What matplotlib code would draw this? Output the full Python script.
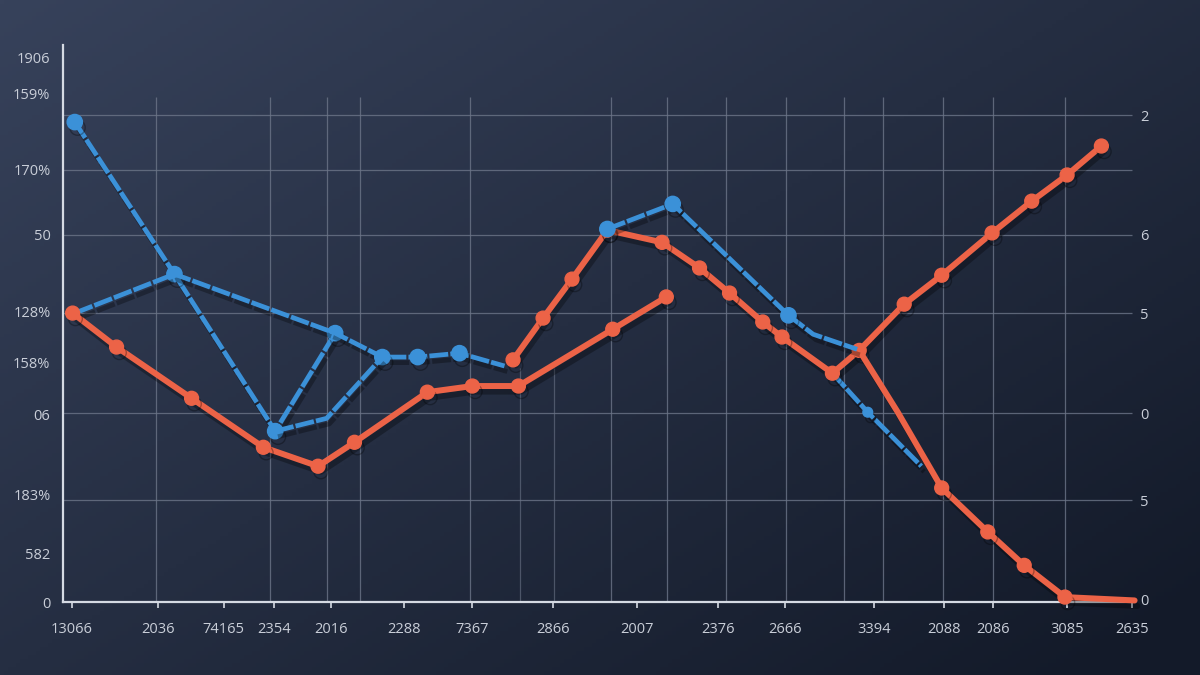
import numpy as np
import matplotlib.pyplot as plt
import matplotlib.patheffects as pe

plt.rcParams['font.family'] = ['Open Sans', 'DejaVu Sans']

# --- data ---
red1_x = [0.9, 5.0, 12.0, 18.7, 23.8, 27.2, 34.0, 38.2, 42.5, 51.3, 56.3]
red1_y = [51.9, 45.8, 36.6, 27.8, 24.4, 28.7, 37.7, 38.8, 38.8, 49.0, 54.8]

red2_x = [42.0, 44.8, 47.5, 50.8, 55.9, 59.4, 62.2, 65.3, 67.1, 71.8, 74.3,
          78.5, 82.0, 86.7, 90.4, 93.7, 96.9]
red2_y = [43.5, 51.0, 58.0, 66.8, 64.6, 60.0, 55.5, 50.3, 47.6, 41.1, 45.2,
          53.5, 58.7, 66.3, 72.0, 76.7, 81.9]

red3_x = [74.3, 77.9, 82.0, 86.3, 89.7, 93.5, 100.0]
red3_y = [45.2, 34.1, 20.5, 12.6, 6.6, 0.9, 0.3]

blue_a_x = [1.1, 10.4, 19.8, 25.4]
blue_a_y = [86.2, 58.9, 30.7, 48.3]
blue_b_x = [1.1, 10.4, 25.4, 29.8, 33.1, 37.0, 41.2]
blue_b_y = [51.9, 58.9, 48.3, 44.0, 44.0, 44.7, 42.4]
blue_c_x = [19.8, 24.6, 29.8]
blue_c_y = [30.7, 33.0, 44.0]
blue_d_x = [50.8, 56.9, 67.7, 70.0, 74.1]
blue_d_y = [67.0, 71.5, 51.5, 48.1, 45.4]
blue_e_x = [71.8, 75.1, 80.1]
blue_e_y = [41.1, 34.1, 24.4]

x_ticks = [0.84, 8.86, 15.0, 19.7, 25.0, 31.8, 38.2, 45.7, 53.6, 61.1, 67.4,
           75.7, 82.2, 86.8, 93.7, 99.8]
x_labels = ['13066', '2036', '74165', '2354', '2016', '2288', '7367', '2866',
            '2007', '2376', '2666', '3394', '2088', '2086', '3085', '2635']
left_ticks = [97.8, 91.4, 77.6, 66.1, 52.1, 43.1, 33.6, 19.4, 8.8, 0.0]
left_labels = ['1906', '159%', '170%', '50', '128%', '158%', '06', '183%', '582', '0']
right_ticks = [87.4, 66.1, 51.9, 33.9, 18.3, 0.4]
right_labels = ['2', '6', '5', '0', '5', '0']

# grid layout
hgrid = [87.4, 77.6, 65.9, 51.9, 33.9, 18.3]
vgrid = [8.7, 19.3, 24.6, 27.7, 38.0, 51.1, 56.4, 61.9, 67.5, 72.9, 76.5,
         82.1, 86.8, 93.5]
vgrid_low = [42.6, 45.8]

RED = '#ec6347'
BLUE = '#3b91d8'
TXT = '#c9ced8'

fig = plt.figure(figsize=(12, 6.75), dpi=100)

# gradient background
bg = fig.add_axes([0, 0, 1, 1])
bg.axis('off')
gx, gy = np.meshgrid(np.linspace(0, 1, 300), np.linspace(0, 1, 170))
t = np.clip(0.55 * gx + 0.5 * gy, 0, 1)
c0 = np.array([0x37, 0x42, 0x5b]) / 255
c1 = np.array([0x13, 0x1a, 0x29]) / 255
bg.imshow(c0 + (c1 - c0) * t[..., None], aspect='auto', extent=[0, 1, 0, 1])

ax = fig.add_axes([0.0525, 0.108, 0.893, 0.825])
ax.set_facecolor('none')
ax.set_xlim(0, 100)
ax.set_ylim(0, 100)

for s in ['top', 'right']:
    ax.spines[s].set_visible(False)
for s in ['left', 'bottom']:
    ax.spines[s].set_color('#d5dae3')
    ax.spines[s].set_linewidth(1.6)

ax.hlines(hgrid, 0, 99.8, color='#6c7588', lw=0.9, alpha=0.8, zorder=1)
ax.vlines(vgrid, 0, 90.7, color='#6c7588', lw=0.9, alpha=0.8, zorder=1)
ax.vlines(vgrid_low, 0, 42, color='#6c7588', lw=0.9, alpha=0.6, zorder=1)

shadow = [pe.SimpleLineShadow(offset=(2, -4), shadow_color='black', alpha=0.3),
          pe.Normal()]

blue_style = dict(color=BLUE, lw=3.4, ls=(0, (4.0, 0.45)), zorder=3,
                  path_effects=shadow, solid_capstyle='round')
ax.plot(blue_a_x, blue_a_y, marker='o', ms=11, markevery=[0, 1, 2, 3], **blue_style)
ax.plot(blue_b_x, blue_b_y, marker='o', ms=11, markevery=[3, 4, 5], **blue_style)
ax.plot(blue_c_x, blue_c_y, **blue_style)
ax.plot(blue_e_x, blue_e_y, marker='o', ms=7, markevery=[1], **blue_style)

red_style = dict(color=RED, lw=4.3, zorder=4, path_effects=shadow,
                 solid_capstyle='round', marker='o', ms=10, clip_on=False)
ax.plot(red1_x, red1_y, **red_style)
ax.plot(red2_x, red2_y, markevery=list(range(len(red2_x))), **red_style)
ax.plot(red3_x, red3_y, markevery=[2, 3, 4, 5], **red_style)

blue_style['zorder'] = 5
ax.plot(blue_d_x, blue_d_y, marker='o', ms=11, markevery=[0, 1, 2], **blue_style)

ax.set_xticks(x_ticks)
ax.set_xticklabels(x_labels)
ax.set_yticks(left_ticks)
ax.set_yticklabels(left_labels)
ax.tick_params(axis='x', colors=TXT, labelsize=10.5, length=4, width=1.2, pad=10,
               color='#d5dae3')
ax.tick_params(axis='y', colors=TXT, labelsize=10.5, length=0, pad=9)

ax2 = ax.twinx()
ax2.set_ylim(0, 100)
for s in ax2.spines.values():
    s.set_visible(False)
ax2.set_yticks(right_ticks)
ax2.set_yticklabels(right_labels)
ax2.tick_params(axis='y', colors=TXT, labelsize=10.5, length=0, pad=4)

fig.savefig('out.png', dpi=100)
